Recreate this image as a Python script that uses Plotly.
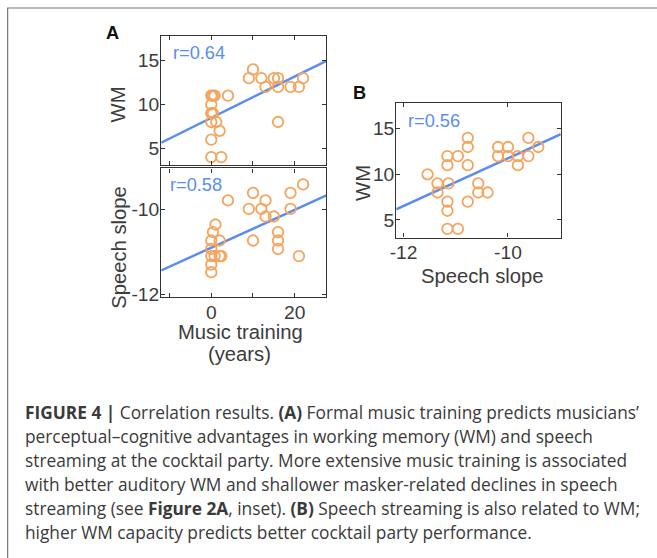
import numpy as np
import plotly.graph_objects as go

W, H = 657, 558

# ---------------- data ----------------
# Panel A (top): WM vs music training (years)
a_top_training = [0, 0.4, 0.8, 0, 0, 0.4, 0, 1.2, 2, 0, 0, 2.4, 4, 9, 10, 12, 13, 15, 16, 16, 16, 19, 21, 22]
a_top_wm       = [11, 11, 11, 10, 9, 9, 8, 8, 7, 6, 4, 4, 11, 13, 14, 13, 12, 13, 13, 12, 8, 12, 12, 13]
a_top_r = "r=0.64"

# Panel A (bottom): speech slope vs music training (years)
a_bot_training = [0, 0, 0, 0.8, 2, 2.4, 0, 0, 2, 0.4, 1, 4, 9, 10, 10, 12, 13, 13, 15, 16, 16, 16, 19, 19, 21, 22]
a_bot_slope    = [-11.48, -11.3, -11.1, -11.1, -11.1, -11.1, -10.93, -10.73, -10.73, -10.53, -10.35,
                  -9.78, -9.98, -9.6, -10.73, -9.98, -9.78, -10.16, -10.16, -10.53, -10.73, -10.93,
                  -9.6, -9.98, -11.1, -9.4]
a_bot_r = "r=0.58"

# Panel B: WM vs speech slope
b_slope = [-11.54, -11.35, -11.35, -11.16, -11.16, -11.14, -11.16, -11.16, -11.16, -10.96, -10.96,
           -10.77, -10.77, -10.77, -10.77, -10.57, -10.57, -10.39, -10.19, -10.19, -10.0, -10.0,
           -9.81, -9.81, -9.61, -9.61, -9.42]
b_wm    = [10, 9, 8, 12, 11, 9, 7, 6, 4, 4, 12, 14, 13, 11, 7, 9, 8, 8, 13, 12, 13, 12, 12, 11, 14, 12, 13]
b_r = "r=0.56"

# regression lines (intercept, slope)
a_top_fit = (8.47, 0.236)
a_bot_fit = (-10.90, 0.045)
b_fit = (37.96, 2.62)

# axis ranges / ticks
a_x_range = [-12, 27.6]
a_x_ticks = [-10, 0, 10, 20]
a_x_ticktext = ["", "0", "", "20"]
wm_range = [3.05, 17.8]
wm_ticks = [5, 10, 15]
slope_range_a = [-12.08, -9.02]
slope_ticks_a = [-12, -10]
slope_ticktext = ["-12", "-10"]
b_x_range = [-12.14, -8.99]
b_x_ticks = [-12, -10]

caption_lines = [
    "<b>FIGURE 4 |</b> Correlation results. <b>(A)</b> Formal music training predicts musicians\u2019",
    "perceptual\u2013cognitive advantages in working memory (WM) and speech",
    "streaming at the cocktail party. More extensive music training is associated",
    "with better auditory WM and shallower masker-related declines in speech",
    "streaming (see <b>Figure 2A</b>, inset). <b>(B)</b> Speech streaming is also related to WM;",
    "higher WM capacity predicts better cocktail party performance.",
]

# ---------------- style ----------------
ORANGE = "#F5A45D"
BLUE = "#5B8DEF"
TXT = "#3c3c3c"
FONT = "Liberation Sans, Arial, sans-serif"
CAP_FONT = "Open Sans, DejaVu Sans, sans-serif"

# the photographed page places the figure with a small offset/scale; map target pixels to figure pixels
SX, OX, SY = 0.988, 8.0, 0.985


def px_x(p):
    return (p - OX) / SX / W


def px_y(p):
    return 1 - (p / SY) / H


def fs(s):
    return s / SX


fig = go.Figure()


def scatter(x, y, xa, ya):
    fig.add_trace(go.Scatter(
        x=x, y=y, mode="markers", xaxis=xa, yaxis=ya, showlegend=False,
        marker=dict(symbol="circle-open", size=10.5, color=ORANGE, line=dict(width=1.8, color=ORANGE)),
    ))


def fitline(rng, fit, xa, ya):
    xs = np.array(rng)
    fig.add_trace(go.Scatter(
        x=xs, y=fit[0] + fit[1] * xs, mode="lines", xaxis=xa, yaxis=ya, showlegend=False,
        line=dict(color=BLUE, width=2.5),
    ))


fitline(a_x_range, a_top_fit, "x", "y")
scatter(a_top_training, a_top_wm, "x", "y")
fitline(a_x_range, a_bot_fit, "x2", "y2")
scatter(a_bot_training, a_bot_slope, "x2", "y2")
fitline(b_x_range, b_fit, "x3", "y3")
scatter(b_slope, b_wm, "x3", "y3")

ax_common = dict(
    showline=True, linecolor="#333333", linewidth=1.2, mirror="ticks",
    ticks="inside", ticklen=4, tickcolor="#333333", showgrid=False, zeroline=False,
    tickfont=dict(family=FONT, size=fs(19), color=TXT), ticklabelstandoff=-3,
)

fig.update_layout(
    width=W, height=H, margin=dict(l=0, r=0, t=0, b=0),
    paper_bgcolor="white", plot_bgcolor="white",
    xaxis=dict(domain=[px_x(162), px_x(327)], range=a_x_range, tickvals=a_x_ticks,
               showticklabels=False, anchor="y", **ax_common),
    yaxis=dict(domain=[px_y(165), px_y(36)], range=wm_range, tickvals=wm_ticks, anchor="x", **ax_common),
    xaxis2=dict(domain=[px_x(162), px_x(327)], range=a_x_range, tickvals=a_x_ticks,
                ticktext=a_x_ticktext, anchor="y2", **ax_common),
    yaxis2=dict(domain=[px_y(296.7), px_y(168)], range=slope_range_a, tickvals=slope_ticks_a,
                ticktext=slope_ticktext, anchor="x2", **ax_common),
    xaxis3=dict(domain=[px_x(396.7), px_x(561)], range=b_x_range, tickvals=b_x_ticks,
                ticktext=slope_ticktext, anchor="y3", **ax_common),
    yaxis3=dict(domain=[px_y(237), px_y(103)], range=wm_range, tickvals=wm_ticks, anchor="x3", **ax_common),
)

ann = []


def text(x, y, s, size=20, color=TXT, angle=0, xanchor="center", yanchor="middle", family=FONT):
    ann.append(dict(x=px_x(x), y=px_y(y), xref="paper", yref="paper", text=s, showarrow=False,
                    textangle=angle, xanchor=xanchor, yanchor=yanchor,
                    font=dict(family=family, size=fs(size), color=color)))


# panel letters
text(113.5, 32.5, "<b>A</b>", size=18, color="#111111")
text(360, 93, "<b>B</b>", size=18, color="#111111")
# r values
text(172, 53, a_top_r, size=18, color=BLUE, xanchor="left")
text(169, 185, a_bot_r, size=18, color=BLUE, xanchor="left")
text(406, 121, b_r, size=18, color=BLUE, xanchor="left")
# axis titles
text(119, 104, "WM", angle=-90)
text(119, 247, "Speech slope", angle=-90)
text(241, 331, "Music training")
text(240, 353, "(years)")
text(364, 182, "WM", angle=-90)
text(482.5, 275, "Speech slope")

# caption
for i, line in enumerate(caption_lines):
    text(24, 411 + i * 24, line, size=17.1, color="#3a3a3a", xanchor="left", family=CAP_FONT)

fig.update_layout(annotations=ann)

# outer frame
fig.add_shape(type="rect", xref="paper", yref="paper", x0=0.001, x1=1.05, y0=-0.05, y1=px_y(8),
              line=dict(color="#777777", width=1.2), fillcolor="rgba(0,0,0,0)")

fig.write_html("out.html", config={"displayModeBar": False},
               post_script="document.body.style.margin='0';document.body.style.overflow='hidden';")
